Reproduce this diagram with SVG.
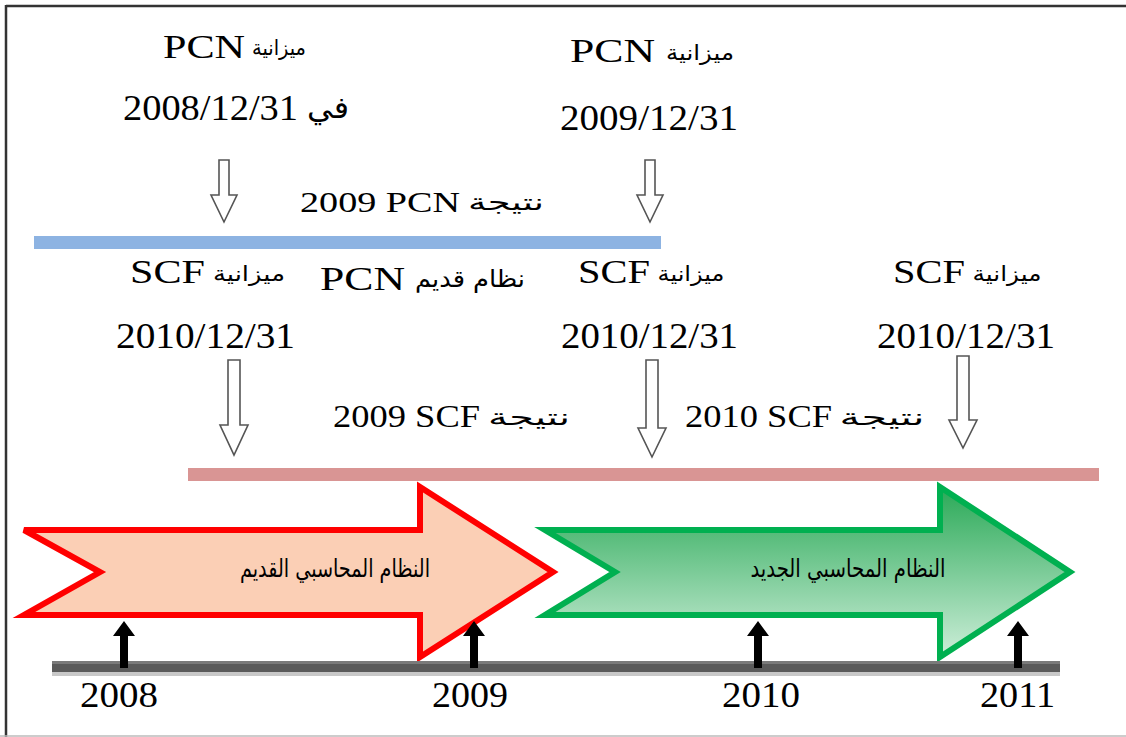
<svg xmlns="http://www.w3.org/2000/svg" width="1126" height="737" viewBox="0 0 1126 737">
<defs>
<style>
.lat{font-family:"Liberation Serif","Times New Roman",serif;fill:#000}
.ar{font-family:"DejaVu Sans","Noto Sans",sans-serif;fill:#000}
.hollow{fill:#fff;stroke:#555;stroke-width:1.6}
.up{fill:#000}
</style>
<linearGradient id="gGreen" x1="0" y1="0" x2="0" y2="1">
<stop offset="0" stop-color="#2aa957"/>
<stop offset="1" stop-color="#cdeed9"/>
</linearGradient>
</defs>
<rect x="0" y="0" width="1126" height="737" fill="#fff"/>
<g id="frame">
<line x1="6" y1="6" x2="1126" y2="6" stroke="#333" stroke-width="2.5"/>
<line x1="6" y1="5" x2="6" y2="737" stroke="#333" stroke-width="2.5"/>
<line x1="0" y1="736" x2="1126" y2="736" stroke="#bbb" stroke-width="1.5"/>
</g>

<g id="pcn2008">
<text class="lat" x="163" y="58" font-size="34" textLength="82" lengthAdjust="spacingAndGlyphs">PCN</text>
<text class="ar" x="279" y="55" font-size="21" text-anchor="middle" textLength="54" lengthAdjust="spacingAndGlyphs">ميزانية</text>
<text class="lat" x="123" y="120" font-size="36" textLength="175" lengthAdjust="spacingAndGlyphs">2008/12/31</text>
<text class="ar" x="328" y="118" font-size="30" text-anchor="middle" textLength="42" lengthAdjust="spacingAndGlyphs">في</text>
</g>

<g id="pcn2009">
<text class="lat" x="570" y="62" font-size="34" textLength="85" lengthAdjust="spacingAndGlyphs">PCN</text>
<text class="ar" x="700" y="60" font-size="21" text-anchor="middle" textLength="68" lengthAdjust="spacingAndGlyphs">ميزانية</text>
<text class="lat" x="560" y="130" font-size="36" textLength="178" lengthAdjust="spacingAndGlyphs">2009/12/31</text>
</g>

<g id="resultPCN">
<text class="lat" x="300" y="212" font-size="30" textLength="160" lengthAdjust="spacingAndGlyphs">2009 PCN</text>
<text class="ar" x="506" y="210" font-size="23" text-anchor="middle" textLength="76" lengthAdjust="spacingAndGlyphs">نتيجة</text>
</g>

<g id="oldPCN">
<text class="lat" x="320" y="290" font-size="34" textLength="85" lengthAdjust="spacingAndGlyphs">PCN</text>
<text class="ar" x="470" y="287" font-size="24" text-anchor="middle" textLength="110" lengthAdjust="spacingAndGlyphs">نظام قديم</text>
</g>

<g id="scf1">
<text class="lat" x="130" y="283" font-size="34" textLength="75" lengthAdjust="spacingAndGlyphs">SCF</text>
<text class="ar" x="249" y="281" font-size="21" text-anchor="middle" textLength="72" lengthAdjust="spacingAndGlyphs">ميزانية</text>
<text class="lat" x="116" y="348" font-size="36" textLength="179" lengthAdjust="spacingAndGlyphs">2010/12/31</text>
</g>

<g id="scf2">
<text class="lat" x="578" y="283" font-size="34" textLength="72" lengthAdjust="spacingAndGlyphs">SCF</text>
<text class="ar" x="691" y="281" font-size="21" text-anchor="middle" textLength="67" lengthAdjust="spacingAndGlyphs">ميزانية</text>
<text class="lat" x="561" y="348" font-size="36" textLength="177" lengthAdjust="spacingAndGlyphs">2010/12/31</text>
</g>

<g id="scf3">
<text class="lat" x="893" y="283" font-size="34" textLength="72" lengthAdjust="spacingAndGlyphs">SCF</text>
<text class="ar" x="1007" y="281" font-size="21" text-anchor="middle" textLength="69" lengthAdjust="spacingAndGlyphs">ميزانية</text>
<text class="lat" x="877" y="348" font-size="36" textLength="178" lengthAdjust="spacingAndGlyphs">2010/12/31</text>
</g>

<g id="resultSCF2009">
<text class="lat" x="333" y="427" font-size="32" textLength="147" lengthAdjust="spacingAndGlyphs">2009 SCF</text>
<text class="ar" x="529" y="425" font-size="23" text-anchor="middle" textLength="82" lengthAdjust="spacingAndGlyphs">نتيجة</text>
</g>

<g id="resultSCF2010">
<text class="lat" x="685" y="427" font-size="32" textLength="147" lengthAdjust="spacingAndGlyphs">2010 SCF</text>
<text class="ar" x="882" y="425" font-size="23" text-anchor="middle" textLength="85" lengthAdjust="spacingAndGlyphs">نتيجة</text>
</g>

<g id="bars">
<rect x="34" y="236" width="627" height="13" fill="#8db3e2"/>
<rect x="188" y="468" width="911" height="13" fill="#d99594"/>
</g>

<g id="oldSystem">
<path d="M24,530 L420,530 L420,487 L553,572 L420,657 L420,615 L24,615 L100,572 Z" fill="#fbcfb5" stroke="#ff0000" stroke-width="6" stroke-linejoin="miter"/>
<text class="ar" x="335" y="577" font-size="25" text-anchor="middle" textLength="190" lengthAdjust="spacingAndGlyphs">النظام المحاسبي القديم</text>
</g>

<g id="newSystem">
<path d="M545,530 L940,530 L940,487 L1070,572 L940,657 L940,615 L545,615 L615,572 Z" fill="url(#gGreen)" stroke="#00b050" stroke-width="6" stroke-linejoin="miter"/>
<text class="ar" x="848" y="577" font-size="25" text-anchor="middle" textLength="195" lengthAdjust="spacingAndGlyphs">النظام المحاسبي الجديد</text>
</g>

<g id="timeline">
<rect x="52" y="672" width="1008" height="4" fill="#c8c8c8"/>
<rect x="52" y="661" width="1008" height="11" fill="#5a5a5a"/>
<rect x="52" y="661" width="1008" height="3" fill="#7a7a7a"/>
</g>

<g id="years">
<text class="lat" x="80" y="707" font-size="35" textLength="78" lengthAdjust="spacingAndGlyphs">2008</text>
<text class="lat" x="432" y="707" font-size="35" textLength="76" lengthAdjust="spacingAndGlyphs">2009</text>
<text class="lat" x="722" y="707" font-size="35" textLength="78" lengthAdjust="spacingAndGlyphs">2010</text>
<text class="lat" x="980" y="707" font-size="35" textLength="75" lengthAdjust="spacingAndGlyphs">2011</text>
</g>

<g id="connectors">
<path class="hollow" d="M219,160 L229,160 L229,195 L237,195 L224,222 L211,195 L219,195 Z"/>
<path class="hollow" d="M645,160 L655,160 L655,195 L663,195 L650,222 L637,195 L645,195 Z"/>
<path class="hollow" d="M228,360 L240,360 L240,425 L248,425 L234,455 L220,425 L228,425 Z"/>
<path class="hollow" d="M646,360 L658,360 L658,428 L666,428 L652,457 L638,428 L646,428 Z"/>
<path class="hollow" d="M957,356 L969,356 L969,420 L977,420 L963,448 L949,420 L957,420 Z"/>
<path class="up" d="M120,668 L120,636 L113,636 L124,621 L135,636 L128,636 L128,668 Z"/>
<path class="up" d="M470,668 L470,636 L463,636 L474,621 L485,636 L478,636 L478,668 Z"/>
<path class="up" d="M754,668 L754,636 L747,636 L758,621 L769,636 L762,636 L762,668 Z"/>
<path class="up" d="M1014,668 L1014,636 L1007,636 L1018,621 L1029,636 L1022,636 L1022,668 Z"/>
</g>
</svg>
